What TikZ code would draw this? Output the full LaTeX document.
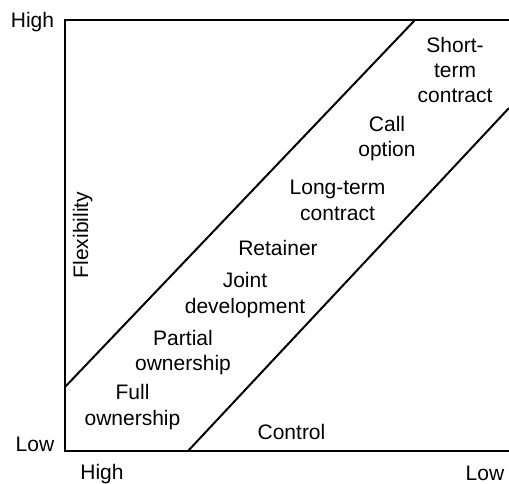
\documentclass[tikz,border=0pt]{standalone}
\usepackage{fontspec}
\setmainfont{Liberation Sans}
\begin{document}
\begin{tikzpicture}[x=1pt,y=-1pt,
  frame/.style={line width=2.6pt},
  band/.style={line width=2pt},
  lbl/.style={font=\fontsize{21}{25.5}\selectfont, align=center, anchor=base, inner sep=0pt}]
\useasboundingbox (0,0) rectangle (509,484);
% axes frame (open on the right)
\coordinate (tr) at (509,20);
\coordinate (tl) at (65,20);
\coordinate (bl) at (65,451);
\coordinate (br) at (509,451);
\draw[frame] (tr) -- (tl) -- (bl) -- (br);
% diagonal band
\coordinate (ua) at (65,387);
\coordinate (ub) at (415,20);
\coordinate (la) at (188,451);
\coordinate (lb) at (509,108);
\draw[band] (ua) -- (ub);
\draw[band] (la) -- (lb);
% axis labels
\node[lbl] (yhigh) at (32.5,28) {High};
\node[lbl] (ylow) at (35,451) {Low};
\node[lbl] (xhigh) at (102,479) {High};
\node[lbl] (xlow) at (485,480) {Low};
\node[lbl, rotate=90] (flex) at (88,235) {Flexibility};
\node[lbl] (ctrl) at (291.5,439) {Control};
% arrangements along the band (anchored at the last line's baseline)
\node[lbl] (st) at (455,103) {Short-\\term\\contract};
\node[lbl] (co) at (387,157) {Call\\option};
\node[lbl] (lt) at (337.5,220) {Long-term\\contract};
\node[lbl] (ret) at (278,255) {Retainer};
\node[lbl] (jd) at (245,313) {Joint\\development};
\node[lbl] (po) at (183,370.5) {Partial\\ownership};
\node[lbl] (fo) at (132.5,425) {Full\\ownership};
\end{tikzpicture}
\end{document}
